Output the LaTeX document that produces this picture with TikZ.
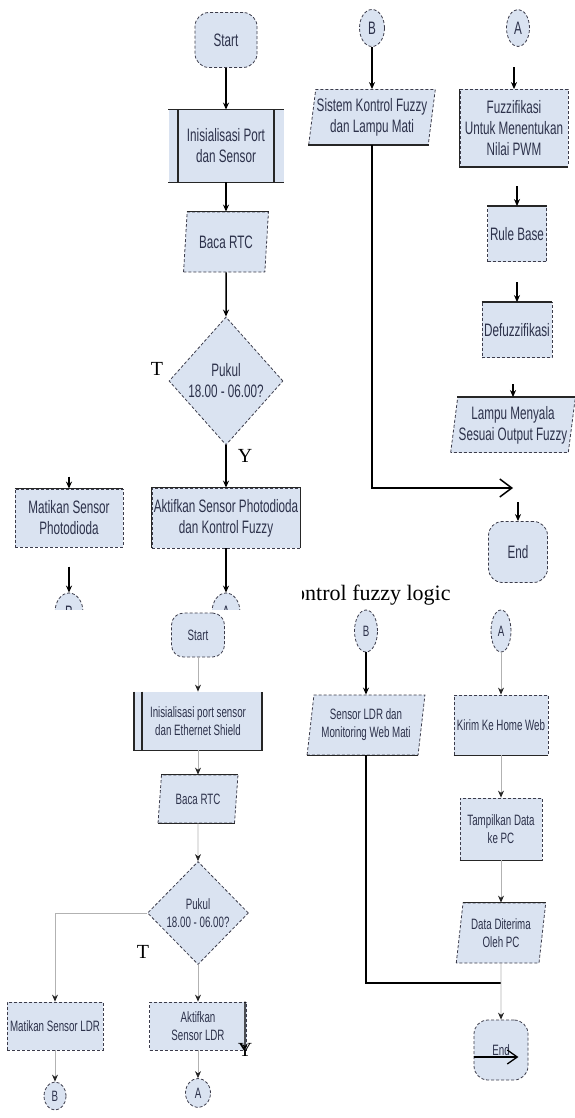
\documentclass[tikz,border=0pt]{standalone}
\usepackage{fontspec}
\setmainfont{Liberation Serif}
\newfontfamily\narrowfont[FakeStretch = 0.65]{Liberation Sans}
\usetikzlibrary{shapes.geometric}
\usetikzlibrary{arrows.meta}

\definecolor{nodefill}{RGB}{218,227,241}
\definecolor{nodeline}{RGB}{60,60,75}
\definecolor{nodetext}{RGB}{45,50,75}

\tikzset{
	base/.style = {fill = nodefill, draw = nodeline, densely dashed, line width = 0.8pt, text = nodetext, align = center, inner sep = 1pt},
	bigtext/.style = {font = {\narrowfont\fontsize{18}{21}\selectfont}},
	smalltext/.style = {font = {\narrowfont\fontsize{15}{18}\selectfont}},
	process/.style = {base, rectangle},
	data/.style = {base, trapezium, trapezium left angle = 80, trapezium right angle = 100, trapezium stretches = true},
	decision/.style = {base, diamond, inner sep = 0pt},
	terminal/.style = {base, rectangle, rounded corners = 14pt},
	connector/.style = {base, ellipse},
	solidedge/.style = {draw = black!85, line width = 1.6pt},
	flowline/.style = {black, line width = 1.5pt, -{Stealth[length = 7pt, width = 6pt]}},
	faintline/.style = {black!30, line width = 0.8pt, -{Stealth[length = 7pt, width = 6pt, color = black!85]}},
	yn/.style = {font = \fontsize{20}{20}\selectfont, inner sep = 0pt}
}

\begin{document}
\begin{tikzpicture}[x = 1pt, y = -1pt]
	\useasboundingbox (0, 0) rectangle (575, 1118);
	\begin{scope}
		\clip (0, 0) rectangle (575, 609);
		\node [terminal, bigtext, minimum width = 62pt, minimum height = 55pt] (start1) at (226, 40) {Start};
		\node [process, bigtext, draw = none, minimum width = 115pt, minimum height = 72pt] (init1) at (226, 146) {Inisialisasi Port\\dan Sensor};
		\node [data, bigtext, minimum width = 85pt, minimum height = 60pt] (baca1) at (226, 242) {Baca RTC};
		\node [decision, bigtext, minimum width = 114pt, minimum height = 128pt] (pukul1) at (226, 381) {Pukul\\18.00 - 06.00?};
		\node [yn] (t1) at (157, 369) {T};
		\node [yn] (y1) at (245, 456) {Y};
		\node [process, bigtext, minimum width = 108pt, minimum height = 58pt] (matikan1) at (69, 518) {Matikan Sensor\\Photodioda};
		\node [process, bigtext, minimum width = 148pt, minimum height = 60pt] (aktif1) at (226, 518) {Aktifkan Sensor Photodioda\\dan Kontrol Fuzzy};
		\node [connector, bigtext, minimum width = 28pt, minimum height = 38pt] (b1) at (69, 612) {B};
		\node [connector, bigtext, minimum width = 28pt, minimum height = 38pt] (a1) at (226, 612) {A};
		\node [connector, bigtext, minimum width = 25pt, minimum height = 37pt] (b2) at (372, 28) {B};
		\node [data, bigtext, minimum width = 122pt, minimum height = 55pt] (sistem) at (372, 117) {Sistem Kontrol Fuzzy\\dan Lampu Mati};
		\node [connector, bigtext, minimum width = 23pt, minimum height = 37pt] (a2) at (518, 28) {A};
		\node [process, bigtext, minimum width = 108pt, minimum height = 77pt] (fuzzif) at (514, 128) {Fuzzifikasi\\Untuk Menentukan\\Nilai PWM};
		\node [process, bigtext, minimum width = 59pt, minimum height = 55pt] (rule) at (517, 234) {Rule Base};
		\node [process, bigtext, minimum width = 70pt, minimum height = 55pt] (defuz) at (517, 330) {Defuzzifikasi};
		\node [data, bigtext, minimum width = 120pt, minimum height = 55pt] (lampu) at (513, 425) {Lampu Menyala\\Sesuai Output Fuzzy};
		\node [terminal, bigtext, minimum width = 59pt, minimum height = 61pt] (end1) at (518, 552) {End};
		\node [font = \fontsize{22}{22}\selectfont, inner sep = 0pt, anchor = base west] (caption) at (294, 600) {ontrol fuzzy logic};
		\fill [white] (280, 580) rectangle (302, 608);
		\coordinate (join1) at (513, 488);
		\draw [solidedge] (init1.north west) -- (init1.north east);
		\draw [solidedge] (init1.south west) -- (init1.south east);
		\draw [solidedge] ([xshift = 10pt] init1.north west) -- ([xshift = 10pt] init1.south west);
		\draw [solidedge] ([xshift = -10pt] init1.north east) -- ([xshift = -10pt] init1.south east);
		\draw [solidedge] (baca1.top left corner) -- (baca1.top right corner);
		\draw [solidedge] (matikan1.north west) -- (matikan1.north east);
		\draw [solidedge] (aktif1.south west) -- (aktif1.north west) -- (aktif1.north east) -- (aktif1.south east);
		\draw [solidedge] (sistem.bottom left corner) -- (sistem.bottom right corner);
		\draw [solidedge] (fuzzif.north west) -- (fuzzif.south west) -- (fuzzif.south east);
		\draw [solidedge] (rule.north west) -- (rule.north east);
		\draw [solidedge] (defuz.north west) -- (defuz.north east);
		\draw [solidedge] (lampu.top left corner) -- (lampu.top right corner);
		\draw [flowline] (start1) -- (init1);
		\draw [flowline] (init1) -- (baca1);
		\draw [flowline] (baca1) -- (pukul1);
		\draw [flowline] (pukul1) -- (aktif1);
		\draw [flowline] (aktif1) -- (a1);
		\draw [flowline] ([yshift = 12pt] matikan1.north) -- (matikan1.north);
		\draw [flowline] ([yshift = 26pt] b1.north) -- (b1.north);
		\draw [flowline] (b2) -- (sistem);
		\draw [black, line width = 1.5pt, -{Straight Barb[length = 12pt, width = 18pt]}] (sistem) |- (join1);
		\draw [flowline] ([yshift = 22pt] fuzzif.north) -- (fuzzif.north);
		\draw [flowline] ([yshift = 20pt] rule.north) -- (rule.north);
		\draw [flowline] ([yshift = 20pt] defuz.north) -- (defuz.north);
		\draw [flowline] ([yshift = 13pt] lampu.north) -- (lampu.north);
		\draw [flowline] ([yshift = 19pt] end1.north) -- (end1.north);
	\end{scope}
	\node [terminal, smalltext, rounded corners = 12pt, minimum width = 53pt, minimum height = 44pt] (start2) at (198, 635) {Start};
	\node [process, smalltext, draw = none, minimum width = 127pt, minimum height = 58pt] (init2) at (198, 721) {Inisialisasi port sensor\\dan Ethernet Shield};
	\node [data, smalltext, minimum width = 80pt, minimum height = 48pt] (baca2) at (198, 799) {Baca RTC};
	\node [decision, smalltext, minimum width = 101pt, minimum height = 103pt] (pukul2) at (198, 913) {Pukul\\18.00 - 06.00?};
	\node [yn] (t2) at (143, 952) {T};
	\node [process, smalltext, minimum width = 96pt, minimum height = 48pt] (matikan2) at (55, 1026) {Matikan Sensor LDR};
	\node [process, smalltext, minimum width = 97pt, minimum height = 48pt] (aktif2) at (198, 1026) {Aktifkan\\Sensor LDR};
	\node [yn] (y2) at (245, 1050) {Y};
	\node [connector, smalltext, minimum width = 22pt, minimum height = 28pt] (b3) at (55, 1096) {B};
	\node [connector, smalltext, minimum width = 25pt, minimum height = 29pt] (a3) at (198, 1093) {A};
	\node [connector, smalltext, minimum width = 23pt, minimum height = 42pt] (b4) at (366, 631) {B};
	\node [data, smalltext, minimum width = 118pt, minimum height = 60pt] (sensor) at (366, 725) {Sensor LDR dan\\Monitoring Web Mati};
	\node [connector, smalltext, minimum width = 20pt, minimum height = 42pt] (a4) at (501, 631) {A};
	\node [process, smalltext, minimum width = 94pt, minimum height = 60pt] (kirim) at (501, 725) {Kirim Ke Home Web};
	\node [process, smalltext, minimum width = 82pt, minimum height = 62pt] (tampil) at (501, 829) {Tampilkan Data\\ke PC};
	\node [data, smalltext, minimum width = 90pt, minimum height = 60pt] (diterima) at (501, 933) {Data Diterima\\Oleh PC};
	\node [terminal, smalltext, minimum width = 54pt, minimum height = 60pt] (end2) at (501, 1050) {End};
	\coordinate (join2) at (501, 983);
	\draw [solidedge] (init2.north west) -- (init2.south west) -- (init2.south east) -- (init2.north east);
	\draw [solidedge] ([xshift = 8pt] init2.north west) -- ([xshift = 8pt] init2.south west);
	\draw [solidedge] (baca2.top left corner) -- (baca2.top right corner);
	\draw [solidedge] (baca2.bottom left corner) -- (baca2.bottom right corner);
	\draw [solidedge] (sensor.bottom left corner) -- (sensor.bottom right corner);
	\draw [solidedge] (kirim.south west) -- (kirim.south east);
	\draw [solidedge] (tampil.south west) -- (tampil.south east);
	\draw [solidedge] (diterima.top left corner) -- (diterima.top right corner);
	\draw [faintline] (start2) -- (init2);
	\draw [faintline] (init2) -- (baca2);
	\draw [faintline] (baca2) -- (pukul2);
	\draw [faintline] (pukul2) -| (matikan2);
	\draw [faintline] (pukul2) -- (aktif2);
	\draw [faintline] (matikan2) -- (b3);
	\draw [faintline] (aktif2) -- (a3);
	\draw [black, line width = 1.2pt, -{Stealth[length = 6pt, width = 5pt]}] ([xshift = -2pt] aktif2.north east) -- (y2.center);
	\draw [black, line width = 1.3pt, -{Stealth[length = 7pt, width = 6pt]}] (b4) -- (sensor);
	\draw [black, line width = 1.3pt] (sensor) |- (join2);
	\draw [faintline] (a4) -- (kirim);
	\draw [faintline] (kirim) -- (tampil);
	\draw [faintline] (tampil) -- (diterima);
	\draw [faintline] (diterima) -- (end2);
	\draw [black, line width = 1.3pt, -{Straight Barb[length = 10pt, width = 14pt]}] ([yshift = -7pt] end2.west) -- ([xshift = -10pt, yshift = -7pt] end2.east);
\end{tikzpicture}
\end{document}
